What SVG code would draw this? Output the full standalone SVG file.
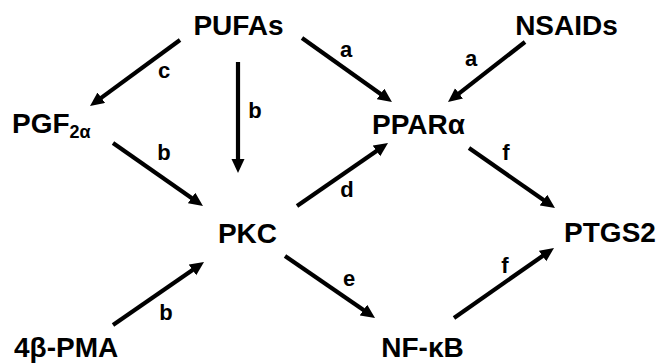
<svg xmlns="http://www.w3.org/2000/svg" width="661" height="364" viewBox="0 0 661 364">
  <style>
    .node { font-family: "Liberation Sans", Arial, sans-serif; font-weight: bold; font-size: 28px; fill: #000; }
    .sub { font-size: 18px; }
    .lbl { font-family: "Liberation Sans", Arial, sans-serif; font-weight: bold; font-size: 22px; fill: #000; text-anchor: middle; }
    .edge { stroke: #000; stroke-width: 4.2; fill: none; marker-end: url(#head); }
  </style>
  <defs>
    <marker id="head" markerUnits="userSpaceOnUse" markerWidth="16" markerHeight="14" refX="4" refY="6.5" orient="auto">
      <path d="M0,0 L14,6.5 L0,13 z" fill="#000"/>
    </marker>
  </defs>
  <rect width="661" height="364" fill="#fff"/>

  <g id="connectors">
    <line class="edge" x1="180" y1="40" x2="98.1" y2="100.1"/>
    <line class="edge" x1="238" y1="62" x2="238" y2="163"/>
    <line class="edge" x1="113" y1="143" x2="194.8" y2="200.3"/>
    <line class="edge" x1="302" y1="38" x2="383.8" y2="96.2"/>
    <line class="edge" x1="525" y1="42" x2="455.9" y2="95.9"/>
    <line class="edge" x1="297" y1="206" x2="379.8" y2="148.7"/>
    <line class="edge" x1="469" y1="148" x2="546.8" y2="202.3"/>
    <line class="edge" x1="285" y1="256" x2="366.8" y2="312.3"/>
    <line class="edge" x1="454" y1="318" x2="545.8" y2="253.7"/>
    <line class="edge" x1="113" y1="325" x2="195.8" y2="267.7"/>
    <text class="lbl" x="164" y="78">c</text>
    <text class="lbl" x="255" y="118">b</text>
    <text class="lbl" x="164" y="160">b</text>
    <text class="lbl" x="346" y="57">a</text>
    <text class="lbl" x="471" y="66">a</text>
    <text class="lbl" x="347" y="197">d</text>
    <text class="lbl" x="506" y="160">f</text>
    <text class="lbl" x="349" y="286">e</text>
    <text class="lbl" x="505" y="273">f</text>
    <text class="lbl" x="166" y="320">b</text>
  </g>

  <g id="pufas"><text class="node" x="238.5" y="35" text-anchor="middle">PUFAs</text></g>
  <g id="nsaids"><text class="node" x="566.5" y="35" text-anchor="middle">NSAIDs</text></g>
  <g id="pgf2a"><text class="node" x="12" y="133">PGF<tspan class="sub" dy="5">2α</tspan></text></g>
  <g id="ppara"><text class="node" x="418.5" y="134" text-anchor="middle">PPARα</text></g>
  <g id="pkc"><text class="node" x="247.5" y="243" text-anchor="middle">PKC</text></g>
  <g id="ptgs2"><text class="node" x="610" y="242" text-anchor="middle">PTGS2</text></g>
  <g id="pma"><text class="node" x="14" y="357">4β-PMA</text></g>
  <g id="nfkb"><text class="node" x="422.5" y="357" text-anchor="middle">NF-κB</text></g>
</svg>
